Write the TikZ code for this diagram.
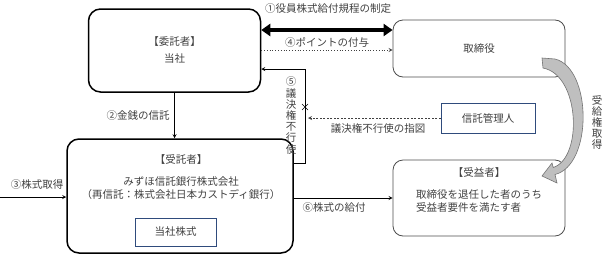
\documentclass[tikz,border=0pt]{standalone}
\usepackage{fontspec}
\setmainfont{Noto Sans CJK JP}
\usetikzlibrary{arrows.meta}
\definecolor{txtgray}{HTML}{404040}
\definecolor{boxblue}{HTML}{2F4B7C}
\tikzset{
  mainbox/.style={draw,line width=1.5pt,rounded corners=12pt,inner sep=0pt},
  softbox/.style={draw=black!70,line width=0.8pt,rounded corners=10pt,inner sep=0pt},
  plainbox/.style={draw=boxblue,line width=1pt,inner sep=0pt,text=txtgray},
  lbl/.style={text=txtgray,inner sep=0pt},
  vlbl/.style={lbl,align=center,font=\fontsize{10.5}{11.2}\selectfont},
}
\begin{document}
\begin{tikzpicture}[x=1pt,y=-1pt,>=stealth,font=\fontsize{10.5}{12.6}\selectfont]
  \useasboundingbox (0,0) rectangle (607,255);
  % boxes
  \node[mainbox,minimum width=172pt,minimum height=83pt] (consign) at (174.5,50.5) {};
  \node[mainbox,minimum width=226pt,minimum height=114pt] (trustee) at (180,196) {};
  \node[softbox,minimum width=172pt,minimum height=57pt,text=txtgray] (director) at (479,48.5) {取締役};
  \node[softbox,minimum width=172pt,minimum height=76pt] (benef) at (479,198) {};
  \node[plainbox,minimum width=94pt,minimum height=30pt] (admin) at (488,118) {信託管理人};
  \node[plainbox,minimum width=81pt,minimum height=28pt] (stock) at (175.5,232) {当社株式};
  % box texts
  \node[lbl] (consignT) at (174.5,42) {【委託者】};
  \node[lbl] (consignN) at (174.5,59) {当社};
  \node[lbl] (trusteeT) at (181,160) {【受託者】};
  \node[lbl] (trusteeN) at (181,182) {みずほ信託銀行株式会社};
  \node[lbl] (trusteeR) at (181,195) {（再信託：株式会社日本カストディ銀行）};
  \node[lbl] (benefT) at (479,173) {【受益者】};
  \node[lbl,anchor=west,align=left] (benefN) at (416,201)
    {取締役を退任した者のうち\\受益者要件を満たす者};
  % levels
  \coordinate (r1) at (0,30);
  \coordinate (r4) at (0,50);
  \coordinate (k5) at (305,69);
  \coordinate (k5b) at (305,163);
  \coordinate (src) at (0,197);
  \coordinate (r6) at (0,198);
  % connectors
  \draw[{Triangle[length=9pt,width=12pt]}-{Triangle[length=9pt,width=12pt]},line width=3.5pt]
    (consign.east |- r1) -- (director.west |- r1);
  \node[lbl] (l1) at (328,9) {①役員株式給付規程の制定};
  \draw[->,dotted,black!75,line width=0.8pt] (consign.east |- r4) -- (director.west |- r4);
  \node[lbl] (l4) at (327,42) {④ポイントの付与};
  \draw[->,line width=0.8pt] (trustee.east |- k5b) -- (k5b) -- (k5) -- (consign.east |- k5);
  \node[vlbl] (l5) at (291,115.5) {⑤\\議\\決\\権\\不\\行\\使};
  \draw[line width=0.6pt] (302,104)--(308,110) (302,110)--(308,104);
  \draw[->,dashed,dash pattern=on 2pt off 1.5pt,black!75,line width=0.8pt]
    (admin.west) -- ([xshift=3pt]k5 |- admin.west);
  \node[lbl] (l6s) at (378,129) {議決権不行使の指図};
  \draw[->,line width=0.8pt] (consign.south) -- (consign.south |- trustee.north);
  \node[lbl] (l2) at (138,116) {②金銭の信託};
  \draw[->,line width=0.8pt] (src) -- (trustee.west |- src);
  \node[lbl] (l3) at (37,185) {③株式取得};
  \draw[->,line width=0.8pt] (trustee.east |- r6) -- (benef.west |- r6);
  \node[lbl] (l6) at (334,208) {⑥株式の給付};
  % curved block arrow
  \fill[gray!50,draw=black!55,line width=0.6pt]
    (543,68) -- (542,58) -- (555,59) .. controls (592,68) and (593,165) .. (555,174.5)
    -- (557,183) -- (542,176) -- (552,163) -- (553.2,167.5)
    .. controls (583,158) and (580,75) .. (543,68) -- cycle;
  \node[vlbl] (lget) at (597,122.5) {受\\給\\権\\取\\得};
\end{tikzpicture}
\end{document}
